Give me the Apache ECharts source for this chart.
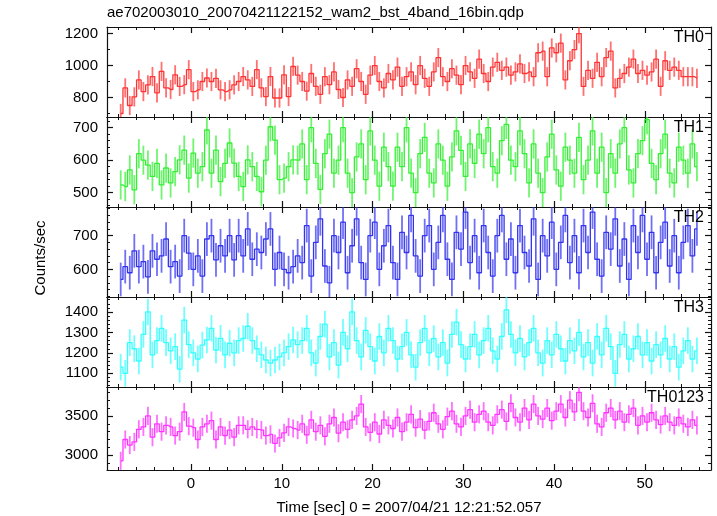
<!DOCTYPE html>
<html><head><meta charset="utf-8">
<script src="https://cdn.jsdelivr.net/npm/echarts@6/dist/echarts.min.js"></script>
<style>html,body{margin:0;padding:0;background:#fff}#c{width:717px;height:516px}</style>
</head><body><div id="c"></div>
<script>
// bin grid (bin centres, seconds)
const T0 = -7.75, DT = 0.5;
const titleText = 'ae702003010_20070421122152_wam2_bst_4band_16bin.qdp';
const xTitle = 'Time [sec] 0 = 2007/04/21 12:21:52.057';
const yTitle = 'Counts/sec';
const panelNames = ['TH0', 'TH1', 'TH2', 'TH3', 'TH0123'];

const th0 = [700,860,750,804,910,837,879,931,829,963,860,850,942,869,880,974,837,848,900,922,900,920,848,837,848,879,900,931,910,869,974,860,806,931,797,797,942,806,994,940,
900,840,950,870,820,930,880,960,850,800,910,870,980,900,820,940,1000,900,860,950,910,990,870,930,960,880,1000,920,870,960,1050,930,900,980,940,880,1000,960,920,1040,950,900,990,1020,
970,990,940,960,1010,950,960,930,1080,1090,930,1110,1080,1140,910,1030,1100,1200,870,970,920,1020,930,1050,1090,860,920,950,990,1040,950,970,940,960,1040,870,1030,970,990,970,930,930,930,920];
const th1 = [524,519,570,509,620,600,585,550,590,524,576,530,565,601,631,545,622,560,580,693,560,631,534,590,653,591,550,519,601,580,550,503,600,703,662,540,545,580,601,600,
650,540,700,590,510,620,680,560,600,700,560,500,610,650,540,690,600,520,640,580,
520,640,580,700,560,500,620,670,560,530,650,600,520,610,690,630,550,650,590,680,
620,700,580,560,660,710,600,580,690,620,530,650,560,500,610,680,570,520,640,600,
560,670,540,600,690,560,640,500,620,560,650,700,570,530,620,660,725,590,540,620,
680,560,530,640,600,560,650,580];
const th2 = [570,608,590,655,608,623,578,655,630,640,690,608,623,580,700,648,600,640,580,690,700,628,670,640,700,628,700,640,720,630,660,650,690,720,600,650,600,590,608,640,
620,730,580,680,750,610,560,700,650,740,590,670,750,620,570,700,740,600,670,730,
620,570,710,650,760,640,580,700,730,600,680,760,630,570,710,660,770,620,700,590,
730,650,580,700,760,630,690,590,730,650,610,750,570,700,640,740,600,680,760,620,
700,590,730,650,770,630,580,710,660,750,610,690,570,730,650,760,630,710,590,680,
740,610,700,590,680,730,640,720];
const th3 = [1130,1100,1250,1220,1160,1290,1400,1190,1260,1320,1250,1210,1230,1120,1360,1240,1200,1170,1238,1263,1320,1214,1271,1190,1247,1200,1260,1270,1330,1260,1220,1190,1165,1150,1165,1180,1200,1230,1263,1240,
1260,1320,1200,1150,1280,1340,1180,1250,1140,1300,1220,1400,1260,1180,1310,1230,1160,1280,1200,1320,
1260,1170,1230,1300,1190,1130,1250,1320,1200,1270,1180,1250,1150,1290,1350,1240,1170,1230,1290,1190,
1260,1320,1210,1170,1280,1410,1290,1200,1270,1180,1250,1320,1200,1150,1260,1190,1290,1220,1160,1260,
1210,1300,1180,1250,1150,1280,1190,1320,1230,1100,1240,1290,1170,1220,1280,1190,1250,1160,1240,1190,
1270,1170,1230,1130,1210,1260,1170,1210];
const th0123 = [2930,3200,3130,3170,3330,3360,3500,3230,3400,3300,3380,3360,3250,3300,3550,3370,3350,3200,3360,3400,3440,3200,3360,3250,3320,3230,3380,3380,3330,3360,3330,3320,3250,3266,3150,3220,3285,3360,3340,3320,
3400,3260,3450,3300,3380,3240,3400,3480,3280,3420,3330,3450,3500,3650,3360,3290,3420,3270,3450,3380,
3340,3480,3300,3420,3520,3350,3460,3320,3430,3540,3400,3330,3490,3560,3400,3360,3500,3580,3420,3520,
3560,3420,3380,3520,3580,3430,3660,3480,3420,3600,3450,3650,3500,3460,3600,3440,3560,3650,3480,3700,
3550,3800,3560,3480,3660,3400,3360,3540,3600,3450,3560,3420,3520,3600,3380,3500,3420,3540,3450,3390,
3500,3420,3380,3480,3400,3360,3450,3380];

// typical error-bar half-length per panel (counts/sec)
const errHalf = [60, 45, 50, 65, 115];

// axis ranges and ticks
const xRange = [-9.26, 57.3];
const xLabels = [0, 10, 20, 30, 40, 50];
const xMinor = [-8,-6,-4,-2,2,4,6,8,12,14,16,18,22,24,26,28,32,34,36,38,42,44,46,48,52,54,56];
const yRanges = [[678, 1241], [456, 733], [518, 785], [1033, 1473], [2813, 3867]];
const yLabels = [[800, 1000, 1200], [500, 600, 700], [600, 700], [1100, 1200, 1300, 1400], [3000, 3500]];
const yMinor = [
  [700, 900, 1100],
  [460,480,520,540,560,580,620,640,660,680,720],
  [520,540,560,580,620,640,660,680,720,740,760,780],
  [1040,1060,1080,1120,1140,1160,1180,1220,1240,1260,1280,1320,1340,1360,1380,1420,1440,1460],
  [2900,3100,3200,3300,3400,3600,3700,3800]
];
const colors = ['#ff3333', '#33f033', '#3333f0', '#33ffff', '#ff33ff'];
const FONT = 'Liberation Sans, Arial, Helvetica, sans-serif';

const allData = [th0, th1, th2, th3, th0123];
const panelTop = [27, 117, 207, 297, 387];
const panelH = 90;

const grids = [], xAxes = [], yAxes = [], series = [], graphics = [];
const lineCol = '#111';
const plain = v => String(v);

allData.forEach((vals, k) => {
  grids.push({left: 107, right: 6, top: panelTop[k], height: panelH});
  const baseX = {type: 'value', gridIndex: k, min: xRange[0], max: xRange[1], splitLine: {show: false},
    axisLabel: {show: false}, axisLine: {show: true, onZero: false, lineStyle: {color: lineCol, width: 1.2}}};
  const xb = Object.assign({}, baseX, {position: 'bottom',
    axisTick: {show: true, inside: true, length: 6, customValues: xLabels, lineStyle: {color: lineCol, width: 1.2}}});
  if (k === 4) {
    xb.axisLabel = {show: true, customValues: xLabels, formatter: plain, fontSize: 15, color: '#000', fontFamily: FONT, margin: 6};
    xb.name = xTitle; xb.nameLocation = 'middle'; xb.nameGap = 30;
    xb.nameTextStyle = {fontSize: 15, color: '#000', fontFamily: FONT};
  }
  xAxes.push(xb);
  xAxes.push(Object.assign({}, baseX, {position: 'bottom', axisLine: {show: false, onZero: false},
    axisTick: {show: true, inside: true, length: 3, customValues: xMinor, lineStyle: {color: lineCol, width: 1}}}));
  xAxes.push(Object.assign({}, baseX, {position: 'top',
    axisTick: {show: true, inside: true, length: 6, customValues: xLabels, lineStyle: {color: lineCol, width: 1.2}}}));
  xAxes.push(Object.assign({}, baseX, {position: 'top', axisLine: {show: false, onZero: false},
    axisTick: {show: true, inside: true, length: 3, customValues: xMinor, lineStyle: {color: lineCol, width: 1}}}));

  const baseY = {type: 'value', gridIndex: k, min: yRanges[k][0], max: yRanges[k][1], splitLine: {show: false},
    axisLabel: {show: false}, axisLine: {show: true, onZero: false, lineStyle: {color: lineCol, width: 1.2}}};
  yAxes.push(Object.assign({}, baseY, {position: 'left',
    axisTick: {show: true, inside: true, length: 6, customValues: yLabels[k], lineStyle: {color: lineCol, width: 1.2}},
    axisLabel: {show: true, customValues: yLabels[k], formatter: plain, fontSize: 15, color: '#000', fontFamily: FONT, margin: 9}}));
  yAxes.push(Object.assign({}, baseY, {position: 'left', axisLine: {show: false, onZero: false},
    axisTick: {show: true, inside: true, length: 3, customValues: yMinor[k], lineStyle: {color: lineCol, width: 1}}}));
  yAxes.push(Object.assign({}, baseY, {position: 'right',
    axisTick: {show: true, inside: true, length: 6, customValues: yLabels[k], lineStyle: {color: lineCol, width: 1.2}}}));
  yAxes.push(Object.assign({}, baseY, {position: 'right', axisLine: {show: false, onZero: false},
    axisTick: {show: true, inside: true, length: 3, customValues: yMinor[k], lineStyle: {color: lineCol, width: 1}}}));

  const pts = vals.map((v, i) => [T0 + i * DT, v]);
  const errPts = vals.map((v, i) => [T0 + i * DT, v, errHalf[k]]);
  const col = colors[k];
  series.push({
    type: 'custom', xAxisIndex: 4 * k, yAxisIndex: 4 * k, data: errPts, silent: true, animation: false,
    renderItem: function (params, api) {
      const t = api.value(0), v = api.value(1), e = api.value(2);
      const cs = params.coordSys;
      const a = api.coord([t, v - e]), b = api.coord([t, v + e]);
      const y1 = Math.min(Math.max(a[1], cs.y), cs.y + cs.height);
      const y2 = Math.min(Math.max(b[1], cs.y), cs.y + cs.height);
      return {type: 'line', shape: {x1: a[0], y1: y1, x2: b[0], y2: y2},
        style: {stroke: col, lineWidth: 1.8, opacity: 0.7}};
    }
  });
  series.push({
    type: 'line', xAxisIndex: 4 * k, yAxisIndex: 4 * k, data: pts, step: 'middle', showSymbol: false,
    symbol: 'none', silent: true, animation: false, clip: true,
    lineStyle: {color: col, width: 1.3}
  });
  graphics.push({type: 'text', right: 13, top: panelTop[k] + 3, z: 100,
    style: {text: panelNames[k], font: '16px ' + FONT, fill: '#000'}});
});

graphics.push({type: 'text', left: 107, top: 5, style: {text: titleText, font: '15px ' + FONT, fill: '#000'}});
graphics.push({type: 'text', x: 41, y: 258, rotation: Math.PI / 2,
  style: {text: yTitle, font: '15px ' + FONT, fill: '#000', textAlign: 'center', textVerticalAlign: 'middle'}});

const chart = echarts.init(document.getElementById('c'), null, {renderer: 'canvas', width: 717, height: 516});
chart.setOption({
  backgroundColor: '#fff', animation: false,
  grid: grids, xAxis: xAxes, yAxis: yAxes, series: series, graphic: graphics
});
</script></body></html>
